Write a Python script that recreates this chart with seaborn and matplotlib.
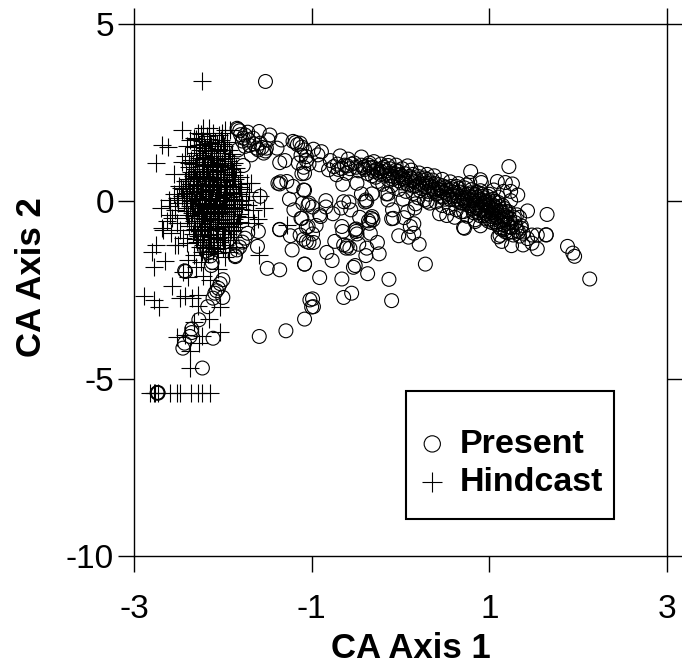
import matplotlib
matplotlib.use("Agg")
import matplotlib.pyplot as plt
from matplotlib.patches import Rectangle
import pandas as pd
import seaborn as sns

# values, (CA axis 1, CA axis 2)
present_outliers = [
    (-1.52, 3.38), (1.22, 0.98), (0.79, 0.84), (1.43, -0.27), (1.65, -0.37), (1.64, -0.95), (1.64, -0.94),
    (1.54, -1.34), (1.88, -1.27), (1.94, -1.46), (1.96, -1.55), (2.13, -2.19), (1.25, -1.25), (1.38, -1.23),
    (1.14, -1.13), (1.48, -1.18), (1.54, -0.95), (1.48, -0.95), (1.43, -1.05), (1.34, -0.45), (1.36, -0.69),
    (1.31, -0.38), (1.32, 0.18), (1.26, 0.49), (1.18, 0.53), (1.09, 0.56), (1.24, 0.28), (1.24, 0.02),
    (0.90, 0.61), (0.91, 0.53), (0.78, 0.53), (1.16, 0.28), (1.05, 0.32), (0.72, -0.76), (0.90, -0.69),
    (0.84, -0.57), (1.10, -1.00), (1.12, -0.96), (0.71, -0.74), (0.61, -0.45), (0.52, -0.40), (0.44, -0.35),
]
present_upper = [
    (-1.84, 2.06), (-1.83, 2.03), (-1.81, 1.99), (-1.75, 1.87), (-1.77, 1.78), (-1.71, 1.73), (-1.66, 1.78),
    (-1.59, 1.97), (-1.47, 1.87), (-1.49, 1.73), (-1.58, 1.64), (-1.51, 1.50), (-1.54, 1.36), (-1.62, 1.50),
    (-1.68, 1.31), (-1.83, 1.45), (-1.75, 1.55), (-1.34, 1.73), (-1.39, 1.50), (-1.21, 1.69), (-1.13, 1.64),
    (-1.11, 1.53), (-1.06, 1.26), (-1.15, 1.08), (-1.09, 0.96), (-1.11, 0.78), (-1.30, 1.15), (-1.36, 1.09),
    (-1.77, 1.01), (-1.60, 1.45), (-1.56, 1.52), (-1.52, 1.42), (-1.65, 1.62), (-1.70, 1.58), (-1.78, 1.70),
    (-1.80, 1.88), (-1.72, 1.95), (-1.16, 1.60), (-1.08, 1.45), (-1.18, 1.66), (-0.98, 1.47), (-0.89, 1.40),
    (-0.93, 1.31), (-0.91, 1.03), (-1.06, 1.15), (-1.08, 0.79), (-1.12, 1.30), (-1.03, 1.06),
]
present_band = [
    (-0.79, 1.15), (-0.81, 0.89), (-0.72, 0.75), (-0.68, 1.28), (-0.61, 0.79), (-0.59, 1.19), (-0.44, 1.25),
    (-0.52, 1.08), (-0.35, 1.08), (-0.75, 0.98), (-0.71, 1.05), (-0.66, 0.93), (-0.63, 1.02), (-0.57, 0.92),
    (-0.55, 1.05), (-0.50, 0.96), (-0.47, 0.86), (-0.44, 1.02), (-0.40, 0.90), (-0.37, 0.78), (-0.34, 0.94),
    (-0.30, 0.85), (-0.28, 0.68), (-0.25, 0.82), (-0.21, 0.92), (-0.18, 0.74), (-0.14, 1.01), (-0.14, 0.62),
    (-0.11, 0.80), (-0.08, 0.70), (-0.05, 0.88), (-0.02, 0.58), (0.00, 0.75), (0.03, 0.64), (0.08, 1.00),
    (0.07, 0.50), (0.10, 0.70), (0.13, 0.58), (0.15, 0.42), (0.18, 0.63), (0.21, 0.50), (0.24, 0.36),
    (0.27, 0.66), (0.29, 0.52), (0.31, 0.28), (0.33, 0.44), (0.36, 0.60), (0.38, 0.34), (0.41, 0.21),
    (0.43, 0.47), (0.46, 0.30), (0.48, 0.12), (0.51, 0.40), (0.53, 0.22), (0.56, 0.05), (0.58, 0.35),
    (0.60, 0.15), (0.63, 0.42), (0.65, 0.00), (0.67, 0.26), (0.70, 0.09), (0.72, 0.38), (0.74, -0.08),
    (0.76, 0.20), (0.78, 0.02), (0.80, 0.33), (0.81, -0.22), (0.83, 0.12), (0.85, -0.05), (0.86, 0.26),
    (0.88, -0.32), (0.89, 0.05), (0.91, -0.14), (0.92, 0.20), (0.94, -0.40), (0.95, -0.02), (0.97, -0.25),
    (0.98, 0.14), (1.00, -0.50), (1.01, -0.10), (1.03, -0.32), (1.04, 0.06), (1.06, -0.58), (1.07, -0.18),
    (1.08, -0.42), (1.10, -0.03), (1.11, -0.72), (1.12, -0.28), (1.14, -0.52), (1.15, -0.12), (1.16, -0.80),
    (1.18, -0.40), (1.20, -0.62), (1.21, -0.88), (1.23, -0.48), (1.25, -0.74), (1.27, -0.95), (1.29, -0.60),
    (1.31, -0.82), (1.34, -0.98), (1.36, -0.76), (1.38, -0.90), (0.82, 0.02), (0.87, -0.10), (0.90, -0.25),
    (0.93, 0.03), (0.96, -0.12), (0.99, -0.30), (1.02, -0.18), (1.05, -0.38), (1.08, -0.25), (0.79, -0.12),
    (0.84, -0.28), (0.73, 0.12), (0.68, -0.05), (0.62, 0.24), (0.55, 0.32), (0.45, 0.38), (0.35, 0.40),
    (0.25, 0.48), (0.16, 0.55), (0.05, 0.60), (-0.03, 0.67), (-0.12, 0.72), (-0.23, 0.76), (-0.32, 0.72),
    (-0.42, 0.95), (-0.60, 1.00), (-0.70, 0.90), (1.00, 0.20), (1.10, 0.12), (1.17, -0.20), (1.22, -0.30),
]
present_band_dense = [
    (-0.40, 0.98), (-0.36, 1.02), (-0.31, 0.96), (-0.27, 0.90), (-0.22, 0.84), (-0.19, 0.96), (-0.16, 0.86),
    (-0.12, 0.92), (-0.09, 0.62), (-0.06, 0.78), (-0.03, 0.84), (0.01, 0.52), (0.02, 0.70), (0.05, 0.78),
    (0.09, 0.46), (0.12, 0.66), (0.14, 0.76), (0.17, 0.44), (0.20, 0.70), (0.22, 0.30), (0.25, 0.60),
    (0.28, 0.42), (0.30, 0.62), (0.32, 0.20), (0.34, 0.52), (0.37, 0.26), (0.39, 0.50), (0.42, 0.34),
    (0.44, 0.14), (0.47, 0.44), (0.49, 0.26), (0.50, 0.06), (0.52, 0.32), (0.54, 0.12), (0.57, 0.42),
    (0.59, 0.26), (0.61, 0.04), (0.64, 0.16), (0.66, 0.36), (0.69, -0.04), (0.71, 0.22), (0.72, 0.02),
    (0.75, 0.10), (0.77, -0.12), (0.79, 0.24), (0.81, 0.10), (0.82, -0.32), (0.84, 0.20), (0.86, -0.18),
    (0.87, 0.12), (0.89, -0.40), (0.90, 0.30), (0.92, -0.26), (0.93, -0.05), (0.94, 0.10), (0.95, -0.48),
    (0.96, -0.34), (0.98, -0.08), (0.99, -0.56), (1.00, 0.02), (1.02, -0.42), (1.03, -0.60), (1.04, -0.24),
    (1.05, -0.12), (1.06, 0.00), (1.07, -0.46), (1.09, -0.66), (1.10, -0.36), (1.11, -0.14), (1.12, -0.56),
    (1.13, -0.78), (1.14, -0.30), (1.15, -0.44), (1.16, -0.66), (1.17, -0.52), (1.18, -0.86), (1.19, -0.28),
    (1.20, -0.44), (1.22, -0.72), (1.24, -0.60), (1.26, -0.86), (1.28, -0.46), (1.30, -0.72), (1.33, -0.86),
]
present_band_edges = [
    (-0.30, 1.12), (-0.22, 1.05), (-0.13, 1.10), (-0.05, 1.02), (0.02, 0.92), (0.12, 0.88), (0.21, 0.80),
    (0.30, 0.76), (0.38, 0.72), (0.47, 0.62), (0.56, 0.55), (0.65, 0.50), (0.74, 0.46), (-0.26, 0.56),
    (-0.20, 0.48), (-0.10, 0.44), (-0.02, 0.34), (0.06, 0.28), (0.14, 0.22), (0.20, 0.10), (0.27, 0.04),
    (0.33, -0.05), (0.40, -0.02), (0.47, -0.12), (0.55, -0.18), (0.63, -0.24), (0.68, -0.30), (0.75, -0.42),
]
present_scatter = [
    (-1.08, 0.31), (-1.03, -0.05), (-0.99, -0.16), (-0.84, 0.02), (-0.84, -0.16), (-0.91, -0.38), (-0.76, -0.35),
    (-0.67, -0.19), (-0.64, -0.01), (-0.58, -0.02), (-0.56, -0.24), (-0.46, -0.45), (-0.39, 0.04), (-0.38, 0.00),
    (-0.44, 0.21), (-0.32, 0.21), (-0.49, 0.51), (-0.65, 0.48), (-1.11, -0.48), (-1.06, -0.73), (-0.95, -0.68),
    (-0.90, -0.43), (-0.99, -0.92), (-1.09, -1.07), (-1.03, -1.16), (-0.98, -1.16), (-0.66, -0.71), (-0.65, -0.85),
    (-0.74, -1.13), (-0.51, -0.80), (-0.49, -0.92), (-0.47, -1.21), (-0.64, -1.23), (-0.61, -1.32), (-0.57, -1.32),
    (-0.60, -1.26), (-0.83, -1.44), (-0.77, -1.67), (-1.08, -1.77), (-0.38, -1.32), (-0.39, -1.53), (-0.26, -1.16),
    (-0.24, -1.48), (-0.51, -1.81), (-0.53, -1.86), (-0.37, -2.04), (-0.91, -2.15), (-0.66, -2.19), (-0.13, -2.20),
    (-0.55, -2.59), (-0.64, -2.71), (-0.99, -2.75), (-0.98, -2.97), (-0.10, -2.80), (0.28, -1.77), (0.21, -1.21),
    (-0.02, -0.97), (0.09, -1.01), (0.15, -0.90), (0.15, -0.63), (0.11, -0.71), (-0.10, -0.49), (-0.08, -0.48),
    (-0.09, -0.24), (0.04, -0.46), (0.08, -0.29), (0.16, -0.19), (0.17, -0.07), (0.03, 0.06), (-0.14, 0.04),
    (-0.16, 0.21), (-0.14, 0.21), (-0.34, -0.90), (-0.33, -0.48), (-0.32, -0.43), (-0.31, -0.52), (-0.35, -0.62),
    (0.30, 0.00), (0.71, -0.29), (0.84, -0.52), (-0.50, -0.85), (-0.50, -0.78), (-0.36, -0.55), (-0.40, -0.02),
    (-1.38, 0.51), (-1.36, 0.49), (-1.28, 0.56), (-1.21, 0.42), (-1.09, 0.32), (-1.25, 0.06), (-1.10, -0.05),
    (-1.04, -0.10), (-1.20, -0.24), (-1.12, -0.48), (-1.04, -0.71), (-1.58, 0.14), (-1.36, -0.80), (-1.35, 0.55),
]
present_lower = [
    (-1.72, -0.90), (-1.75, -1.04), (-1.60, -0.85), (-1.61, -1.27), (-1.81, -1.29), (-1.84, -1.37), (-1.86, -1.56),
    (-1.86, -1.53), (-2.14, -1.54), (-2.13, -1.81), (-2.43, -1.96), (-2.42, -1.98), (-2.00, -2.21), (-2.05, -2.45),
    (-2.09, -2.59), (-2.11, -2.73), (-2.00, -2.71), (-2.17, -2.97), (-2.27, -3.34), (-2.35, -3.70), (-2.37, -3.81),
    (-2.43, -4.00), (-2.45, -4.14), (-2.11, -3.86), (-2.23, -4.70), (-2.73, -5.39), (-2.74, -5.40), (-2.73, -5.41),
    (-1.59, -3.81), (-1.29, -3.65), (-1.08, -3.32), (-1.50, -1.89), (-1.36, -1.93), (-1.22, -1.37), (-1.08, -1.77),
    (-1.36, -0.79), (-1.24, -0.97), (-1.13, -0.95), (-1.06, -1.13), (-1.02, -2.78), (-1.00, -2.98), (-2.19, -1.40),
    (-2.03, -2.32), (-2.07, -2.52), (-1.78, -1.15), (-2.35, -3.60), (-2.16, -1.45), (-2.12, -1.72),
]
hindcast_core = [
    (-2.25, 1.90), (-2.18, 1.84), (-2.11, 1.93), (-2.04, 1.86), (-2.30, 1.75), (-2.23, 1.70), (-2.16, 1.76),
    (-2.09, 1.68), (-2.02, 1.74), (-1.95, 1.66), (-2.33, 1.52), (-2.27, 1.58), (-2.20, 1.50), (-2.13, 1.56),
    (-2.06, 1.48), (-1.99, 1.55), (-1.93, 1.46), (-2.30, 1.36), (-2.24, 1.30), (-2.17, 1.37), (-2.10, 1.29),
    (-2.03, 1.35), (-1.97, 1.28), (-1.90, 1.34), (-2.36, 1.16), (-2.29, 1.11), (-2.22, 1.18), (-2.15, 1.10),
    (-2.08, 1.17), (-2.01, 1.09), (-1.94, 1.15), (-1.87, 1.08), (-2.38, 0.97), (-2.31, 0.92), (-2.24, 0.99),
    (-2.18, 0.90), (-2.11, 0.96), (-2.05, 0.89), (-1.98, 0.97), (-1.91, 0.90), (-1.85, 0.95), (-2.41, 0.76),
    (-2.34, 0.71), (-2.27, 0.78), (-2.21, 0.70), (-2.14, 0.77), (-2.07, 0.69), (-2.00, 0.76), (-1.93, 0.68),
    (-1.87, 0.75), (-1.81, 0.70), (-2.43, 0.56), (-2.37, 0.50), (-2.30, 0.58), (-2.23, 0.49), (-2.16, 0.57),
    (-2.10, 0.48), (-2.03, 0.55), (-1.96, 0.47), (-1.90, 0.56), (-1.83, 0.49), (-2.45, 0.36), (-2.38, 0.29),
    (-2.32, 0.37), (-2.25, 0.28), (-2.19, 0.36), (-2.12, 0.27), (-2.05, 0.35), (-1.98, 0.26), (-1.92, 0.34),
    (-1.85, 0.27), (-1.79, 0.35), (-2.46, 0.15), (-2.40, 0.08), (-2.33, 0.16), (-2.27, 0.07), (-2.20, 0.15),
    (-2.13, 0.06), (-2.07, 0.14), (-2.00, 0.05), (-1.93, 0.13), (-1.87, 0.06), (-1.80, 0.14), (-2.44, -0.06),
    (-2.37, -0.13), (-2.31, -0.05), (-2.24, -0.14), (-2.17, -0.06), (-2.11, -0.15), (-2.04, -0.07), (-1.97, -0.16),
    (-1.91, -0.07), (-1.84, -0.15), (-1.78, -0.07), (-2.42, -0.27), (-2.35, -0.34), (-2.29, -0.26), (-2.22, -0.35),
    (-2.15, -0.27), (-2.09, -0.36), (-2.02, -0.28), (-1.95, -0.37), (-1.89, -0.28), (-1.82, -0.36), (-2.40, -0.48),
    (-2.33, -0.55), (-2.27, -0.47), (-2.20, -0.56), (-2.13, -0.48), (-2.07, -0.57), (-2.00, -0.49), (-1.93, -0.58),
    (-1.87, -0.50), (-1.81, -0.57), (-2.38, -0.70), (-2.31, -0.77), (-2.25, -0.69), (-2.18, -0.78), (-2.11, -0.70),
    (-2.05, -0.79), (-1.98, -0.71), (-1.91, -0.80), (-1.85, -0.72), (-2.34, -0.92), (-2.28, -0.99), (-2.21, -0.91),
    (-2.14, -1.00), (-2.08, -0.92), (-2.01, -1.01), (-1.94, -0.93), (-1.88, -1.00), (-2.29, -1.16), (-2.22, -1.22),
    (-2.16, -1.15), (-2.10, -1.23), (-2.03, -1.16), (-1.97, -1.22), (-2.24, -1.42), (-2.17, -1.48), (-2.11, -1.40),
    (-2.05, -1.47), (-2.21, 1.02), (-2.12, 1.05), (-2.03, 1.01), (-2.26, 0.64), (-2.17, 0.62), (-2.08, 0.60),
    (-1.99, 0.63), (-2.26, 0.22), (-2.17, 0.21), (-2.08, 0.20), (-1.99, 0.19), (-2.28, -0.18), (-2.19, -0.22),
    (-2.10, -0.20), (-2.01, -0.23), (-2.24, -0.62), (-2.16, -0.63), (-2.07, -0.64), (-1.98, -0.60), (-2.20, 0.42),
    (-2.11, 0.41), (-2.02, 0.42), (-2.14, -0.42), (-2.05, -0.42), (-2.23, -0.41),
]
hindcast_core_dense = [
    (-2.21, 1.62), (-2.14, 1.64), (-2.07, 1.61), (-2.00, 1.63), (-2.26, 1.44), (-2.19, 1.43), (-2.12, 1.45),
    (-2.05, 1.42), (-1.98, 1.44), (-2.27, 1.22), (-2.20, 1.24), (-2.13, 1.21), (-2.06, 1.23), (-1.99, 1.20),
    (-1.92, 1.22), (-2.34, 1.04), (-2.27, 1.05), (-2.17, 1.03), (-2.07, 1.04), (-1.97, 1.03), (-1.90, 1.02),
    (-2.36, 0.84), (-2.29, 0.85), (-2.22, 0.84), (-2.15, 0.83), (-2.08, 0.85), (-2.02, 0.83), (-1.95, 0.84),
    (-1.88, 0.82), (-2.39, 0.63), (-2.32, 0.65), (-2.29, 0.70), (-2.19, 0.72), (-2.12, 0.66), (-2.05, 0.64),
    (-1.95, 0.60), (-1.86, 0.62), (-2.41, 0.43), (-2.34, 0.44), (-2.28, 0.46), (-2.15, 0.46), (-2.06, 0.44),
    (-1.98, 0.40), (-1.88, 0.42), (-1.81, 0.41), (-2.42, 0.24), (-2.35, 0.22), (-2.29, 0.25), (-2.22, 0.30),
    (-2.14, 0.32), (-2.04, 0.25), (-1.95, 0.21), (-1.89, 0.23), (-1.82, 0.20), (-2.44, 0.03), (-2.36, 0.02),
    (-2.30, 0.10), (-2.23, 0.04), (-2.16, 0.10), (-2.09, 0.02), (-2.03, 0.10), (-1.96, 0.03), (-1.89, 0.00),
    (-1.82, 0.02), (-2.41, -0.18), (-2.34, -0.20), (-2.26, -0.08), (-2.21, -0.10), (-2.14, -0.12), (-2.07, -0.18),
    (-1.99, -0.10), (-1.93, -0.22), (-1.86, -0.20), (-1.80, -0.22), (-2.39, -0.38), (-2.32, -0.40), (-2.25, -0.30),
    (-2.18, -0.32), (-2.11, -0.30), (-2.04, -0.33), (-1.97, -0.30), (-1.91, -0.42), (-1.84, -0.42), (-2.36, -0.60),
    (-2.29, -0.62), (-2.21, -0.50), (-2.15, -0.53), (-2.09, -0.50), (-2.02, -0.54), (-1.95, -0.50), (-1.89, -0.63),
    (-1.83, -0.62), (-2.33, -0.82), (-2.26, -0.84), (-2.20, -0.72), (-2.13, -0.82), (-2.07, -0.74), (-2.00, -0.84),
    (-1.93, -0.70), (-1.87, -0.85), (-2.30, -1.06), (-2.24, -1.08), (-2.17, -0.94), (-2.11, -1.07), (-2.05, -1.04),
    (-1.99, -1.10), (-1.92, -1.08), (-2.26, -1.30), (-2.19, -1.32), (-2.13, -1.30), (-2.07, -1.33), (-2.00, -1.31),
]
hindcast_fringe = [
    (-2.23, 3.38), (-2.46, 2.02), (-2.68, 1.59), (-2.62, 1.52), (-2.75, 1.08), (-2.46, 1.12), (-2.55, 0.77),
    (-2.49, 0.42), (-2.47, 0.37), (-2.61, 0.04), (-2.59, -0.38), (-2.68, -0.76), (-2.22, 2.06), (-2.16, 2.06),
    (-2.28, 1.94), (-1.98, 2.02), (-2.01, 1.94), (-1.92, 2.00), (-2.33, 1.78), (-2.37, 1.73), (-2.40, 1.55),
    (-2.43, 1.28), (-1.73, 0.51), (-1.68, 0.53), (-1.58, 0.14), (-1.54, -0.19), (-1.60, -0.50), (-1.28, -0.66),
    (-1.70, 0.26), (-1.72, -0.10), (-1.66, -0.25), (-1.72, -0.45), (-1.65, -0.62), (-1.74, 0.05), (-2.55, 0.22),
    (-2.60, -0.12), (-2.54, -0.25), (-2.57, -0.48), (-2.52, -0.60), (-2.63, -0.55), (-2.50, -0.05), (-2.52, 0.10),
    (-2.67, -0.80), (-2.58, -0.90), (-2.48, -0.80), (-2.45, -1.02), (-2.40, -1.18), (-2.80, -1.42), (-2.75, -1.23),
    (-2.65, -1.67), (-2.78, -1.84), (-2.54, -1.23), (-2.50, -1.23), (-2.39, -1.65), (-2.39, -2.12), (-2.57, -2.38),
    (-2.33, -1.50), (-2.25, -1.72), (-2.30, -1.85), (-2.45, -1.98), (-2.14, -2.21), (-2.22, -2.10), (-1.98, -1.56),
    (-1.59, -1.51), (-2.89, -2.67), (-2.78, -2.78), (-2.72, -2.98), (-2.48, -2.73), (-2.43, -2.68), (-2.35, -2.73),
    (-2.28, -2.64), (-2.28, -2.95), (-2.03, -2.98), (-2.16, -3.32), (-2.33, -3.39), (-2.03, -3.69), (-2.52, -3.83),
    (-2.43, -3.76), (-2.23, -3.81), (-2.27, -4.00), (-2.37, -4.21), (-2.37, -4.70), (-2.05, -1.90), (-1.93, -1.42),
    (-1.85, -1.30), (-2.70, -0.20), (-2.42, 0.58), (-2.38, 1.08),
]
hindcast_floor = [
    (-2.82, -5.40), (-2.78, -5.40), (-2.76, -5.40), (-2.73, -5.40), (-2.60, -5.40), (-2.52, -5.40), (-2.48, -5.40),
    (-2.36, -5.40), (-2.28, -5.40), (-2.24, -5.40), (-2.14, -5.40),
]
tick_x = [-3, -1, 1, 3]
tick_y = [-10, -5, 0, 5]

present = pd.DataFrame(present_outliers + present_upper + present_band + present_band_dense + present_band_edges
                       + present_scatter + present_lower, columns=["ca1", "ca2"])
hindcast = pd.DataFrame(hindcast_core + hindcast_core_dense + hindcast_fringe + hindcast_floor,
                        columns=["ca1", "ca2"])

sns.set_style("white")
plt.rcParams["font.family"] = ["Liberation Sans", "DejaVu Sans"]
plt.rcParams["axes.unicode_minus"] = False
plt.rcParams["text.color"] = "black"

fig = plt.figure(figsize=(6.82, 6.67), dpi=100)
ax = fig.add_axes([134 / 682, 1 - 556 / 667, 533 / 682, 532 / 667])

sns.scatterplot(data=present, x="ca1", y="ca2", marker="o", s=100, facecolor="none",
                edgecolor="black", linewidth=0.8, label="Present", ax=ax)
sns.scatterplot(data=hindcast, x="ca1", y="ca2", marker="+", s=150, color="black",
                linewidth=0.8, label="Hindcast", ax=ax)

ax.set_xlim(-3, 3)
ax.set_ylim(-10, 5)
ax.set_xticks(tick_x)
ax.set_yticks(tick_y)
ax.tick_params(axis="both", which="major", direction="out", length=11.5, width=1, color="black",
               left=True, bottom=True, top=True, right=True, labelsize=24, labelcolor="black")
ax.tick_params(axis="x", pad=16)
ax.tick_params(axis="y", pad=3)
for spine in ax.spines.values():
    spine.set_color("black")
    spine.set_linewidth(1)

ax.set_xlabel("CA Axis 1", fontsize=25, fontweight="bold", color="black", labelpad=5, x=0.519)
ax.set_ylabel("CA Axis 2", fontsize=25, fontweight="bold", color="black", labelpad=13, y=0.524)

# legend box sits a bit off the entries, so it is drawn by hand
ax.add_patch(Rectangle((0.062, -8.95), 2.341, 3.607, facecolor="white", edgecolor="black", linewidth=1.5, zorder=3))
leg = ax.legend(loc="upper left", bbox_to_anchor=(0.483, 0.271), frameon=False, markerscale=1.17, handlelength=1.4,
                prop={"size": 24.5, "weight": "bold"}, handletextpad=0.1, labelspacing=0.22, borderpad=0)
leg.set_zorder(4)

fig.savefig("out.png", dpi=100)
